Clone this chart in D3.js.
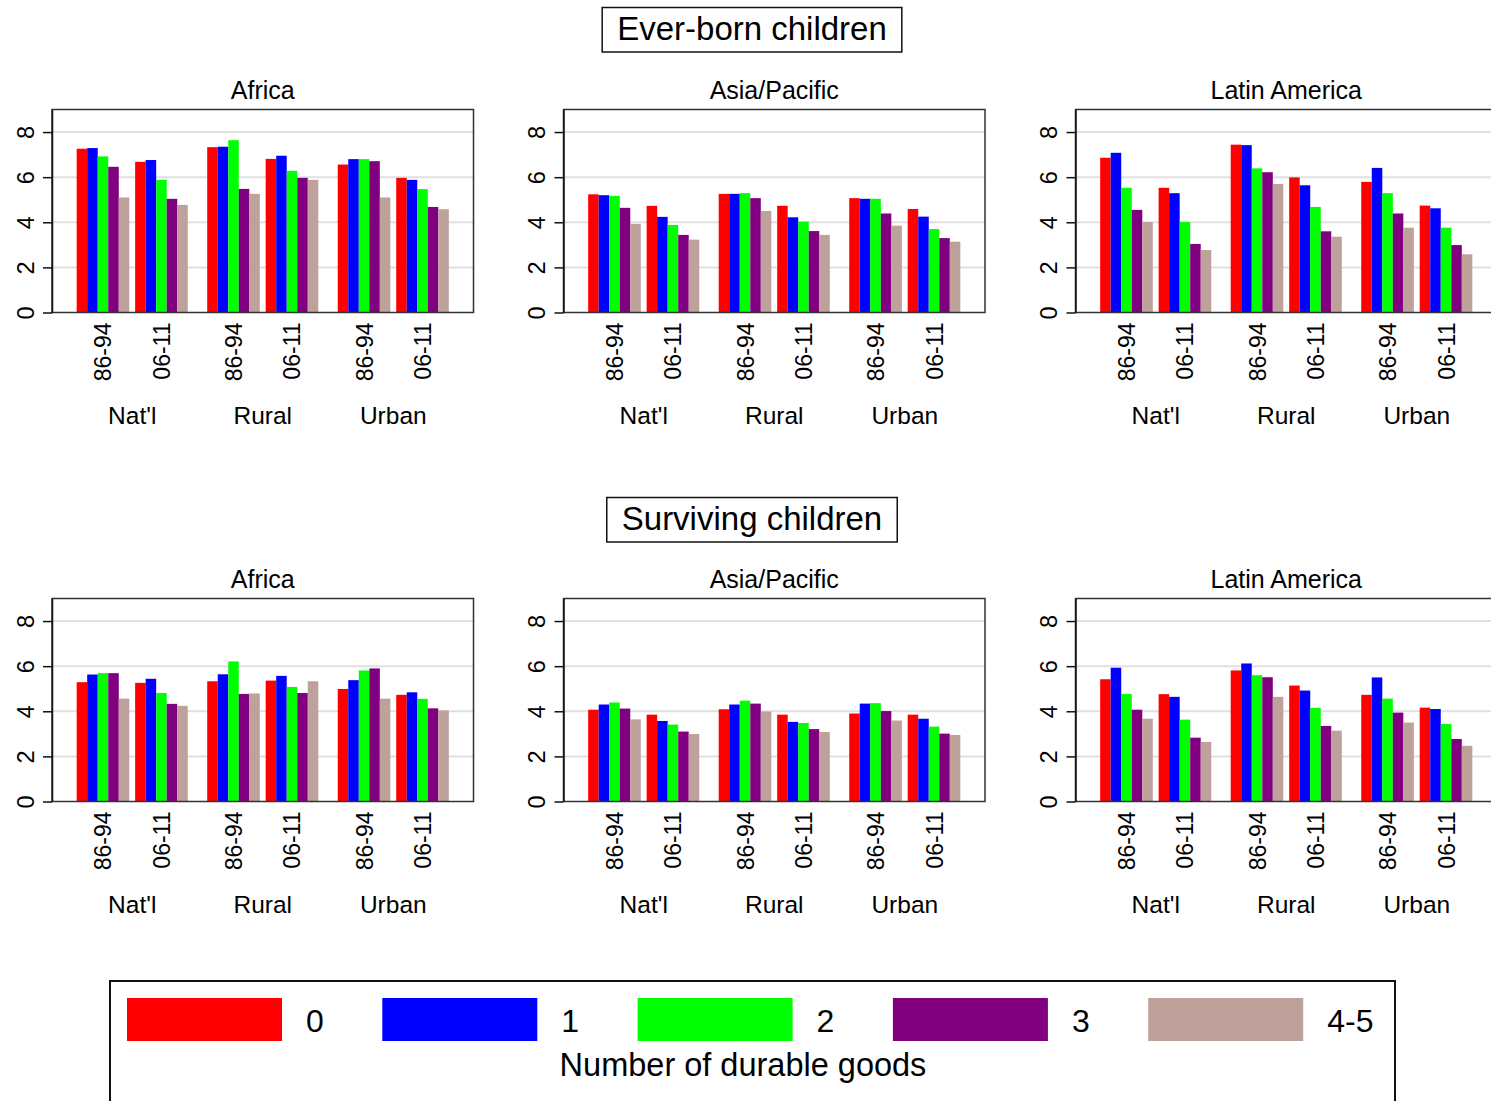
<!DOCTYPE html>
<html>
<head>
<meta charset="utf-8">
<script src="https://cdn.jsdelivr.net/npm/d3@7"></script>
<style>
  body { margin: 0; background: #fff; }
  svg { font-family: "Liberation Sans", Arial, Helvetica, sans-serif; }
</style>
</head>
<body>
<div id="chart"></div>
<script>
// categories
var regions = ["Africa", "Asia/Pacific", "Latin America"];
var areas = ["Nat'l", "Rural", "Urban"];
var periods = ["86-94", "06-11"];
var goods = ["0", "1", "2", "3", "4-5"];
var goodsColors = ["#ff0000", "#0000ff", "#00ff00", "#800080", "#bea19a"];
var yTicks = [0, 2, 4, 6, 8];

// values: one row per area x period (Nat'l 86-94, Nat'l 06-11, Rural 86-94, ...), 5 goods each
var everBornAfrica = [
    [7.26, 7.29, 6.92, 6.46, 5.10],
    [6.68, 6.76, 5.88, 5.04, 4.77],
    [7.33, 7.35, 7.64, 5.48, 5.26],
    [6.81, 6.95, 6.28, 5.97, 5.88],
    [6.56, 6.80, 6.80, 6.71, 5.10],
    [5.97, 5.88, 5.47, 4.68, 4.58]
];
var everBornAsia = [
    [5.24, 5.20, 5.17, 4.64, 3.93],
    [4.73, 4.24, 3.88, 3.44, 3.23],
    [5.26, 5.26, 5.29, 5.07, 4.50],
    [4.73, 4.22, 4.03, 3.61, 3.44],
    [5.07, 5.04, 5.04, 4.39, 3.85],
    [4.59, 4.25, 3.70, 3.30, 3.14]
];
var everBornLatAm = [
    [6.86, 7.08, 5.53, 4.55, 4.01],
    [5.53, 5.29, 4.01, 3.04, 2.77],
    [7.44, 7.42, 6.39, 6.22, 5.70],
    [5.99, 5.64, 4.68, 3.60, 3.36],
    [5.79, 6.41, 5.29, 4.39, 3.76],
    [4.74, 4.62, 3.76, 2.99, 2.58]
];
var survivingAfrica = [
    [5.29, 5.63, 5.69, 5.69, 4.56],
    [5.26, 5.44, 4.81, 4.33, 4.24],
    [5.33, 5.64, 6.21, 4.77, 4.79],
    [5.36, 5.57, 5.08, 4.81, 5.33],
    [4.99, 5.38, 5.81, 5.90, 4.56],
    [4.73, 4.84, 4.55, 4.13, 4.04]
];
var survivingAsia = [
    [4.07, 4.30, 4.39, 4.12, 3.64],
    [3.85, 3.57, 3.41, 3.10, 2.99],
    [4.09, 4.30, 4.47, 4.34, 3.99],
    [3.85, 3.53, 3.48, 3.21, 3.08],
    [3.90, 4.34, 4.36, 4.01, 3.59],
    [3.85, 3.67, 3.32, 3.01, 2.95]
];
var survivingLatAm = [
    [5.42, 5.93, 4.77, 4.07, 3.67],
    [4.76, 4.64, 3.63, 2.83, 2.64],
    [5.81, 6.12, 5.60, 5.51, 4.64],
    [5.14, 4.92, 4.15, 3.35, 3.14],
    [4.73, 5.50, 4.56, 3.94, 3.50],
    [4.16, 4.10, 3.44, 2.77, 2.47]
];

var sections = [
    {title: "Ever-born children", panels: [everBornAfrica, everBornAsia, everBornLatAm]},
    {title: "Surviving children", panels: [survivingAfrica, survivingAsia, survivingLatAm]}
];

var w = 1491, h = 1101;
var svg = d3.select("#chart").append("svg")
    .attr("width", w)
    .attr("height", h);

// panel geometry
var panelLeft = [52, 563.5, 1075.5];
var panelW = 421.5;
var panelH = 203;
var rowTop = [109.5, 598.5];
var titleY = [7.5, 497.5];

// scales for the bars inside one panel
var xArea = d3.scaleBand().domain(areas).range([0, panelW]).paddingInner(0.149).paddingOuter(0.189);
var xPeriod = d3.scaleBand().domain(periods).range([0, xArea.bandwidth()]).paddingInner(0.1);
var xGoods = d3.scaleBand().domain(goods).range([0, xPeriod.bandwidth()]);
var color = d3.scaleOrdinal().domain(goods).range(goodsColors);

sections.forEach(function(sec, r) {
    // boxed section title
    var tb = svg.append("g");
    var tt = tb.append("text")
        .attr("x", 752)
        .attr("y", titleY[r] + 32)
        .attr("text-anchor", "middle")
        .attr("font-size", 33)
        .text(sec.title);
    var bw = tt.node().getComputedTextLength() + 30;
    tb.insert("rect", "text")
        .attr("x", 752 - bw / 2)
        .attr("y", titleY[r])
        .attr("width", bw)
        .attr("height", 44.5)
        .attr("fill", "none")
        .attr("stroke", "#111")
        .attr("stroke-width", 1.5);

    sec.panels.forEach(function(data, c) {
        var top = rowTop[r];
        var g = svg.append("g")
            .attr("transform", "translate(" + panelLeft[c] + "," + top + ")");

        var y = d3.scaleLinear().domain([0, 9]).range([panelH, 0]);

        // region title
        g.append("text")
            .attr("x", panelW / 2)
            .attr("y", -10.5)
            .attr("text-anchor", "middle")
            .attr("font-size", 25)
            .text(regions[c]);

        // grid lines
        g.selectAll(".grid")
            .data(yTicks.slice(1))
            .enter().append("line")
            .attr("x1", 0).attr("x2", panelW)
            .attr("y1", function(d) { return y(d); })
            .attr("y2", function(d) { return y(d); })
            .attr("stroke", "#e0e0e0")
            .attr("stroke-width", 2);

        // bars
        data.forEach(function(row, i) {
            var area = areas[Math.floor(i / 2)];
            var period = periods[i % 2];
            var x0 = xArea(area) + xPeriod(period);
            g.selectAll(null)
                .data(row)
                .enter().append("rect")
                .attr("x", function(d, k) { return x0 + xGoods(goods[k]); })
                .attr("y", function(d) { return y(d); })
                .attr("width", xGoods.bandwidth())
                .attr("height", function(d) { return y(0) - y(d); })
                .attr("fill", function(d, k) { return color(goods[k]); });

            // period label, rotated
            var cx = x0 + xPeriod.bandwidth() / 2;
            g.append("text")
                .attr("transform", "translate(" + (cx + 8.5) + "," + (panelH + 10) + ") rotate(-90)")
                .attr("text-anchor", "end")
                .attr("font-size", 23)
                .text(period);
        });

        // area labels
        g.selectAll(".area")
            .data(areas)
            .enter().append("text")
            .attr("x", function(d) { return xArea(d) + xArea.bandwidth() / 2; })
            .attr("y", panelH + 111)
            .attr("text-anchor", "middle")
            .attr("font-size", 24.5)
            .text(function(d) { return d; });

        // frame
        g.append("rect")
            .attr("width", panelW)
            .attr("height", panelH)
            .attr("fill", "none")
            .attr("stroke", "#333")
            .attr("stroke-width", 1.5);

        // y axis
        var yAxis = d3.axisLeft(y).tickValues(yTicks).tickSize(9).tickSizeOuter(0).tickPadding(0);
        var ax = g.append("g").call(yAxis);
        ax.select(".domain").attr("stroke", "#111").attr("stroke-width", 1.5);
        ax.selectAll(".tick line").attr("stroke", "#111").attr("stroke-width", 1.5);
        ax.selectAll(".tick text")
            .attr("font-size", 23.5)
            .attr("font-family", "Liberation Sans, Arial, sans-serif")
            .attr("fill", "#000")
            .attr("x", null).attr("dy", null)
            .attr("text-anchor", "middle")
            .attr("transform", "translate(-18.5,0) rotate(-90)");
    });
});

// legend
var lg = svg.append("g");
lg.append("rect")
    .attr("x", 110).attr("y", 981)
    .attr("width", 1285).attr("height", 160)
    .attr("fill", "none")
    .attr("stroke", "#111")
    .attr("stroke-width", 2);

var xKey = d3.scaleBand().domain(goods).range([127, 1403.5]);
goods.forEach(function(k) {
    lg.append("rect")
        .attr("x", xKey(k))
        .attr("y", 998)
        .attr("width", 155)
        .attr("height", 43)
        .attr("fill", color(k));
    lg.append("text")
        .attr("x", xKey(k) + 179)
        .attr("y", 1032)
        .attr("font-size", 32)
        .text(k);
});
lg.append("text")
    .attr("x", 743)
    .attr("y", 1076)
    .attr("text-anchor", "middle")
    .attr("font-size", 32.5)
    .text("Number of durable goods");
</script>
</body>
</html>
